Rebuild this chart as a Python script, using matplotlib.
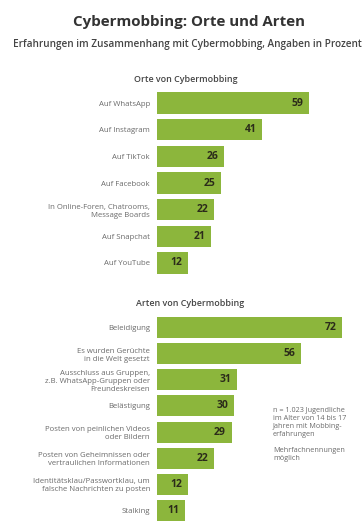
import matplotlib
matplotlib.use("Agg")
import matplotlib.pyplot as plt

# Orte von Cybermobbing
orte_labels = [
    "Auf WhatsApp",
    "Auf Instagram",
    "Auf TikTok",
    "Auf Facebook",
    "In Online-Foren, Chatrooms,\nMessage Boards",
    "Auf Snapchat",
    "Auf YouTube",
]
orte_values = [59, 41, 26, 25, 22, 21, 12]

# Arten von Cybermobbing
arten_labels = [
    "Beleidigung",
    "Es wurden Gerüchte\nin die Welt gesetzt",
    "Ausschluss aus Gruppen,\nz.B. WhatsApp-Gruppen oder\nFreundeskreisen",
    "Belästigung",
    "Posten von peinlichen Videos\noder Bildern",
    "Posten von Geheimnissen oder\nvertraulichen Informationen",
    "Identitätsklau/Passwortklau, um\nfalsche Nachrichten zu posten",
    "Stalking",
]
arten_values = [72, 56, 31, 30, 29, 22, 12, 11]

GREEN = "#8cb63c"
LABEL = "#6b6b6b"
DARK = "#2b2b1a"
W, H = 363, 521

plt.rcParams["font.family"] = ["Open Sans", "DejaVu Sans"]

fig = plt.figure(figsize=(W / 100, H / 100), dpi=100)
fig.patch.set_facecolor("white")


def add_panel(top_px, bottom_px, labels, values):
    left = 157 / W
    width = (80 * 2.57) / W
    ax = fig.add_axes([left, 1 - bottom_px / H, width, (bottom_px - top_px) / H])
    pos = list(range(len(values)))
    ax.barh(pos, values, height=0.8, color=GREEN)
    ax.set_xlim(0, 80)
    ax.set_ylim(len(values) - 0.5, -0.5)
    ax.set_yticks(pos)
    ax.set_yticklabels(labels, fontsize=5.6, color=LABEL, linespacing=1.2)
    ax.tick_params(axis="y", length=0, pad=5)
    ax.set_xticks([])
    for s in ax.spines.values():
        s.set_visible(False)
    for p, v in zip(pos, values):
        ax.annotate(str(v), (v, p), xytext=(-4, 0), textcoords="offset points",
                    ha="right", va="center", fontsize=7.5, fontweight="bold",
                    color=DARK)
    return ax


add_panel(89.7, 276.3, orte_labels, orte_values)
add_panel(314.5, 523.5, arten_labels, arten_values)

fig.text(189 / W, 1 - 22 / H, "Cybermobbing: Orte und Arten", ha="center",
         va="center", fontsize=10.9, fontweight="bold", color="#333333")
fig.text(187 / W, 1 - 45 / H,
         "Erfahrungen im Zusammenhang mit Cybermobbing, Angaben in Prozent",
         ha="center", va="center", fontsize=7.2, fontweight="semibold",
         color="#444444")
fig.text(186 / W, 1 - 80 / H, "Orte von Cybermobbing", ha="center",
         va="center", fontsize=6.4, fontweight="semibold", color="#444444")
fig.text(190 / W, 1 - 304 / H, "Arten von Cybermobbing", ha="center",
         va="center", fontsize=6.4, fontweight="semibold", color="#444444")
fig.text(273 / W, 1 - 407 / H,
         "n = 1.023 Jugendliche\nim Alter von 14 bis 17\nJahren mit Mobbing-\nerfahrungen\n\nMehrfachnennungen\nmöglich",
         ha="left", va="top", fontsize=5.2, color=LABEL, linespacing=1.2)

fig.savefig("out.png", dpi=100, facecolor="white")
